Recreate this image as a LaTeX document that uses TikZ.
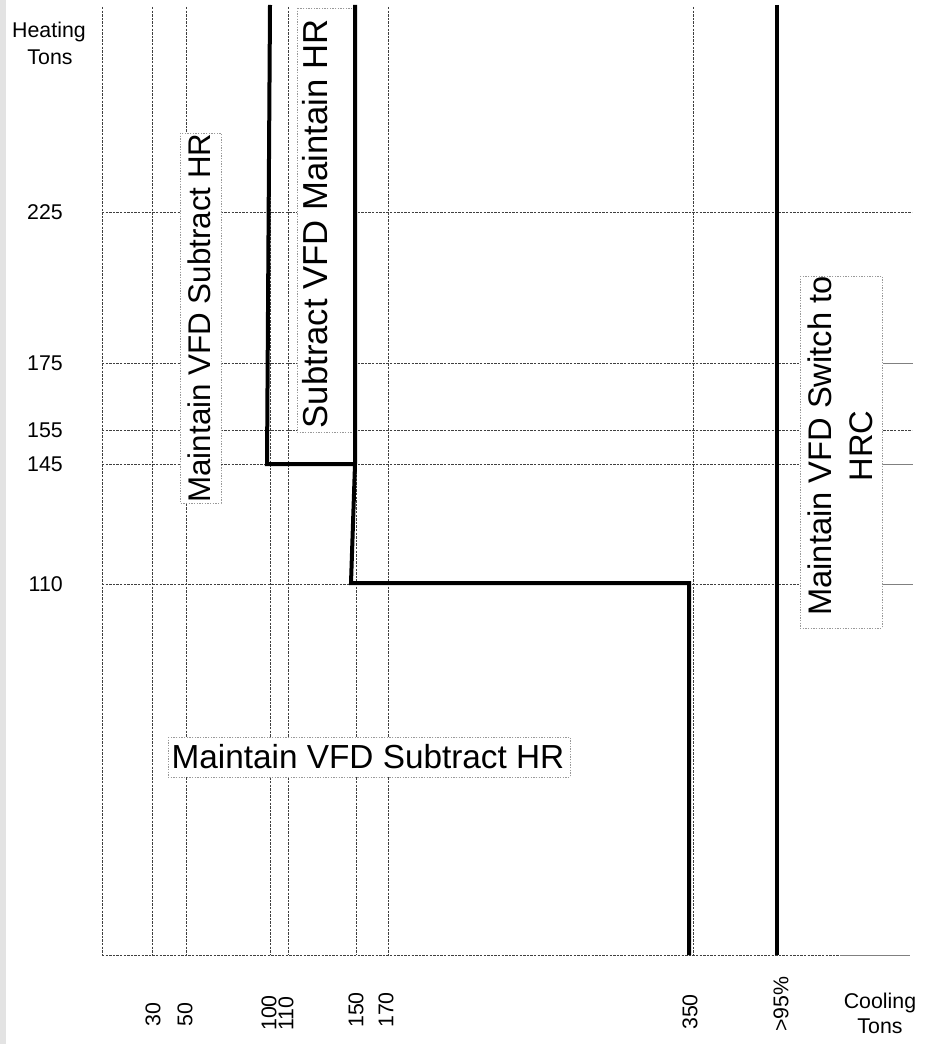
\documentclass[tikz,border=0pt]{standalone}
\usepackage{fontspec}
\setmainfont{Liberation Sans}
\usepackage{graphicx}
\begin{document}
\begin{tikzpicture}[x=0.75pt,y=-0.75pt,
  gridline/.style={draw=black!75, line width=0.6pt, dash pattern=on 1.8pt off 0.9pt},
  solidtail/.style={draw=black!50, line width=0.7pt},
  bound/.style={draw=black, line width=3pt, line cap=butt, line join=miter},
  lblbox/.style={fill=white, draw=black!40, line width=0.5pt, dash pattern=on 1pt off 1pt},
  small/.style={font=\fontsize{16}{19}\selectfont, inner sep=0pt},
  big/.style={inner sep=0pt}]
\useasboundingbox (0,0) rectangle (934,1044);
\fill[white] (0,0) rectangle (934,1044);
\fill[black!11] (0,0) rectangle (6,1044);

% vertical grid lines
\foreach \xx in {102,152,186,270,288,356,388,693}
  \draw[gridline] (\xx,7) -- (\xx,955);
% horizontal grid lines
\foreach \yy in {212,363,430,464,584}
  \draw[gridline] (102,\yy) -- (912,\yy);
\draw[gridline] (102,955) -- (840,955);
\draw[solidtail] (840,955) -- (910,955);

% label boxes (white, hide the grid)
\draw[lblbox] (180,133) rectangle (221,503);
\draw[lblbox] (297,8) rectangle (354,432);
\draw[lblbox] (800,276) rectangle (882,628);
\draw[lblbox] (168,737) rectangle (570,777);
\foreach \yy in {363,464,584}
  \draw[solidtail] (883,\yy) -- (913,\yy);

% thick boundary lines
\draw[bound] (270,5) -- (267,464) -- (355,464);
\draw[bound] (355,5) -- (355,464) -- (351,583) -- (689,583) -- (689,955);
\draw[bound] (777,5) -- (777,955);

% axis titles
\node[small, anchor=base] (ht1) at (49,38) {Heating};
\node[small, anchor=base] (ht2) at (50,65) {Tons};
\node[small, anchor=base] (ct1) at (880,1008) {Cooling};
\node[small, anchor=base] (ct2) at (880,1033) {Tons};

% y tick labels
\node[small, anchor=east] (y225) at (63,212) {225};
\node[small, anchor=east] (y175) at (63,363) {175};
\node[small, anchor=east] (y155) at (63,430) {155};
\node[small, anchor=east] (y145) at (63,464) {145};
\node[small, anchor=east] (y110) at (63,584) {110};

% x tick labels
\node[small, rotate=90, anchor=west] (x30) at (153,1027) {30};
\node[small, rotate=90, anchor=west] (x50) at (185,1027) {50};
\node[small, rotate=90, anchor=west] (x100) at (269,1031) {100};
\node[small, rotate=90, anchor=west] (x110) at (286,1031) {110};
\node[small, rotate=90, anchor=west] (x150) at (356,1028) {150};
\node[small, rotate=90, anchor=west] (x170) at (386,1028) {170};
\node[small, rotate=90, anchor=west] (x350) at (690,1030) {350};
\node[small, rotate=90, anchor=west] (x95) at (781,1032) {>95\%};

% region labels
\node[big, rotate=90, font=\fontsize{23.5}{28}\selectfont] (r1) at (199,318) {Maintain VFD Subtract HR};
\node[big, rotate=90, font=\fontsize{26}{30}\selectfont] (r2) at (315,224) {Subtract VFD Maintain HR};
\node[big, rotate=90, align=center, font=\fontsize{24.5}{31}\selectfont] (r3) at (840,446) {Maintain VFD Switch to\\HRC};
\node[big, font=\fontsize{25}{29}\selectfont, anchor=base] (r4) at (368,768) {Maintain VFD Subtract HR};
\end{tikzpicture}
\end{document}
